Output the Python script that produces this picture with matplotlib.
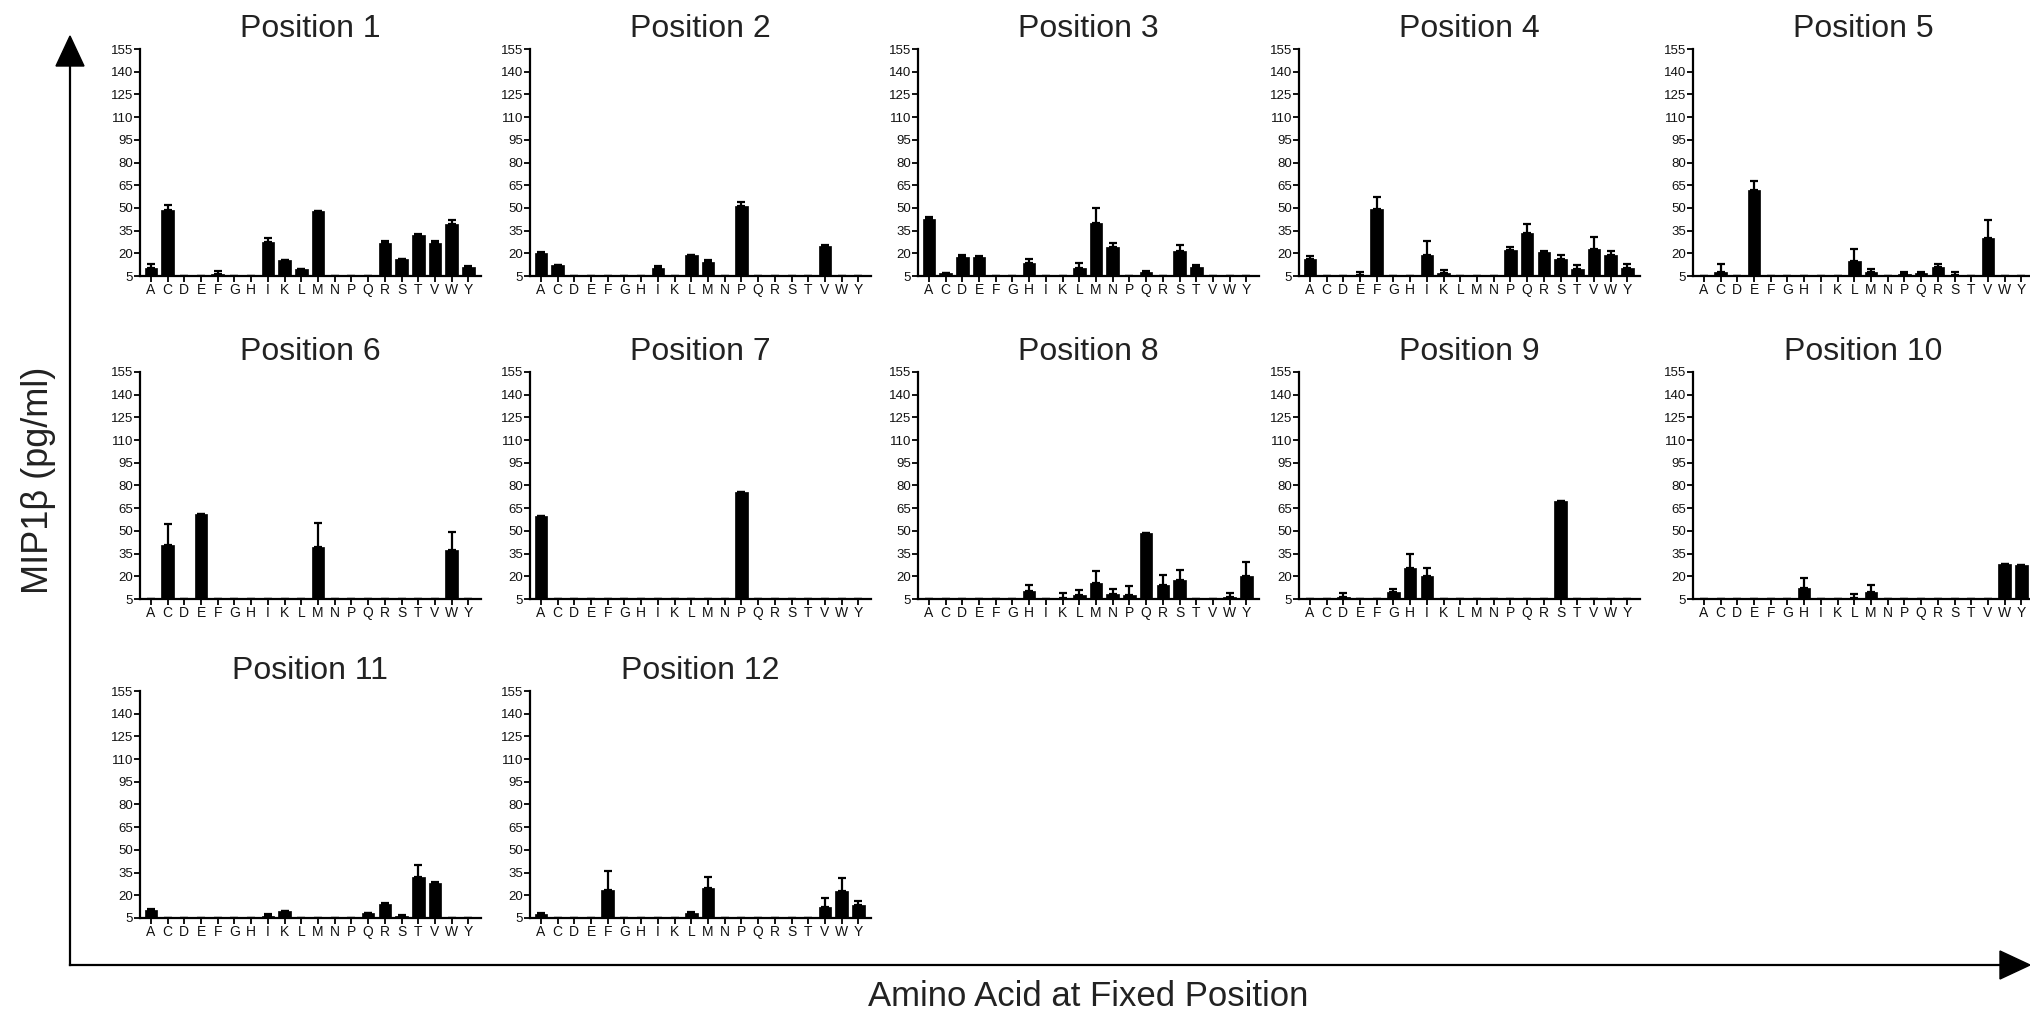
import numpy as np
import matplotlib
matplotlib.use("Agg")
import matplotlib.pyplot as plt
from matplotlib.lines import Line2D
from matplotlib.patches import Polygon

plt.rcParams['font.family'] = ['Liberation Sans', 'DejaVu Sans']

amino_acids = ["A", "C", "D", "E", "F", "G", "H", "I", "K", "L",
               "M", "N", "P", "Q", "R", "S", "T", "V", "W", "Y"]
y_ticks = [5, 20, 35, 50, 65, 80, 95, 110, 125, 140, 155]

pos1 = [10, 48.5, 5, 5, 6.5, 5, 5, 27.7, 15.4, 9.9, 47.8, 5, 5, 5, 26.6, 16, 32.1, 26.6, 39.6, 11]
pos1_err = [2.7, 3.3, 0, 0, 1.8, 0, 0, 2.2, 0, 0, 0, 0, 0, 0, 1.6, 0.4, 0.7, 1.4, 2.2, 0.6]

pos2 = [20.4, 12, 5, 5, 5, 5, 5, 10.3, 5, 18.7, 14.5, 5, 51.1, 5, 5, 5, 5, 24.6, 5, 5]
pos2_err = [0.6, 0.5, 0, 0, 0, 0, 0, 1.3, 0, 0.4, 0.9, 0, 2.7, 0, 0, 0, 0, 0.9, 0, 0]

pos3 = [42.5, 7.2, 17.8, 17.6, 5, 5, 13.8, 5, 5, 10.3, 40.3, 24.4, 5, 7.6, 5, 21.8, 10.7, 5, 5, 5]
pos3_err = [1.8, 0, 0.9, 0.6, 0, 0, 2.7, 0, 0, 3.1, 9.7, 2.6, 0, 0.9, 0, 3.7, 1.6, 0, 0, 0]

pos4 = [16.5, 5, 5, 5.9, 49.1, 5, 5, 19.1, 7.2, 5, 5, 5, 22.4, 33.2, 20.9, 16, 9.6, 23.1, 18.7, 10]
pos4_err = [2, 0, 0, 1.5, 8.2, 0, 0, 8.8, 1.8, 0, 0, 0, 1.6, 6, 0.9, 2.9, 2.7, 7.7, 2.8, 2.9]

pos5 = [5, 7.4, 5, 61.7, 5, 5, 5, 5, 5, 14.7, 7.4, 5, 6.5, 6.8, 10.7, 5.9, 5, 30.4, 5, 5]
pos5_err = [0, 5.3, 0, 6.4, 0, 0, 0, 0, 0, 8.2, 2.5, 0, 0.9, 1.1, 2.2, 2, 0, 11.4, 0, 0]

pos6 = [5, 40.5, 5, 61.1, 5, 5, 5, 5, 5, 5, 39.4, 5, 5, 5, 5, 5, 5, 5, 37.2, 5]
pos6_err = [0, 14.2, 0, 0, 0, 0, 0, 0, 0, 0, 15.5, 0, 0, 0, 0, 0, 0, 0, 12.2, 0]

pos7 = [60, 5, 5, 5, 5, 5, 5, 5, 5, 5, 5, 5, 75.9, 5, 5, 5, 5, 5, 5, 5]
pos7_err = [0, 0, 0, 0, 0, 0, 0, 0, 0, 0, 0, 0, 0, 0, 0, 0, 0, 0, 0, 0]

pos8 = [5, 5, 5, 5, 5, 5, 10.3, 5, 5.9, 7.6, 15.8, 8.1, 7.9, 48.7, 14.3, 17.8, 5, 5, 6.5, 20.4]
pos8_err = [0, 0, 0, 0, 0, 0, 4.2, 0, 2.9, 3.1, 8, 3.7, 5.9, 0, 6.4, 6.4, 0, 0, 2.3, 8.9]

pos9 = [5, 5, 6.1, 5, 5, 9.9, 25.6, 20.3, 5, 5, 5, 5, 5, 5, 5, 69.9, 5, 5, 5, 5]
pos9_err = [0, 0, 2.7, 0, 0, 2, 9.3, 5.5, 0, 0, 0, 0, 0, 0, 0, 0, 0, 0, 0, 0]

pos10 = [5, 5, 5, 5, 5, 5, 12.3, 5, 5, 5.7, 9.4, 5, 5, 5, 5, 5, 5, 5, 27.8, 27.3]
pos10_err = [0, 0, 0, 0, 0, 0, 6.4, 0, 0, 2.4, 4.9, 0, 0, 0, 0, 0, 0, 0, 0, 0]

pos11 = [10.5, 5, 5, 5, 5, 5, 5, 6.3, 9.4, 5, 5, 5, 5, 8.3, 14.3, 6.6, 31.8, 28.3, 5, 5]
pos11_err = [0.7, 0, 0, 0, 0, 0, 0, 1.1, 0.3, 0, 0, 0, 0, 0.3, 0.3, 0.3, 8.2, 0.3, 0, 0]

pos12 = [7.7, 5, 5, 5, 23.2, 5, 5, 5, 5, 8.6, 24.6, 5, 5, 5, 5, 5, 5, 12.3, 22.6, 13.4]
pos12_err = [0.3, 0, 0, 0, 13.1, 0, 0, 0, 0, 0.3, 7.5, 0, 0, 0, 0, 0, 0, 5.8, 9.1, 2.7]

means = [pos1, pos2, pos3, pos4, pos5, pos6, pos7, pos8, pos9, pos10, pos11, pos12]
errors = [pos1_err, pos2_err, pos3_err, pos4_err, pos5_err, pos6_err,
          pos7_err, pos8_err, pos9_err, pos10_err, pos11_err, pos12_err]

W, H = 2031, 1015
fig = plt.figure(figsize=(W / 100, H / 100), dpi=100)

col_left = [140, 530, 918, 1299, 1693]
row_top = [49, 372, 691]
ax_w, ax_h = 341, 227

x = np.arange(len(amino_acids))
for i, (m, e) in enumerate(zip(means, errors)):
    r, c = divmod(i, 5)
    left = col_left[c] / W
    bottom = 1 - (row_top[r] + ax_h) / H
    ax = fig.add_axes([left, bottom, ax_w / W, ax_h / H])
    m = np.array(m, dtype=float)
    e = np.array(e, dtype=float)
    ax.bar(x, m, width=0.75, color='black', edgecolor='black', linewidth=0.5)
    ax.errorbar(x, m, yerr=[np.zeros_like(e), e], fmt='none', ecolor='black',
                elinewidth=1.6, capsize=3, capthick=1.6)
    ax.set_ylim(5, 155)
    ax.set_xlim(-0.65, 19.75)
    ax.set_yticks(y_ticks)
    ax.set_yticklabels([str(t) for t in y_ticks], fontsize=9.5, color='#111111')
    ax.set_xticks(x)
    ax.set_xticklabels(amino_acids, fontsize=10, color='#111111')
    ax.tick_params(axis='y', direction='out', length=4, width=1.3, pad=1)
    ax.tick_params(axis='x', direction='out', length=4, width=1.3, pad=1)
    for s in ['top', 'right']:
        ax.spines[s].set_visible(False)
    for s in ['left', 'bottom']:
        ax.spines[s].set_linewidth(1.6)
    ax.set_title(f"Position {i + 1}", fontsize=23, color='#222222', pad=8.5)

# axis labels
fig.text(39 / W, 1 - 480 / H, "MIP1β (pg/ml)", rotation=90, ha='center', va='center',
         fontsize=26, color='#222222')
fig.text(1088 / W, 1 - 997 / H, "Amino Acid at Fixed Position", ha='center', va='center',
         fontsize=25, color='#222222')

# arrows
tr = fig.transFigure
x0, y0 = 70 / W, 1 - 965 / H
fig.add_artist(Line2D([x0, x0], [y0, 1 - 60 / H], transform=tr, color='black', lw=1.6))
fig.add_artist(Line2D([x0, 2005 / W], [y0, y0], transform=tr, color='black', lw=1.6))
fig.add_artist(Polygon([[x0, 1 - 36 / H], [(70 - 14) / W, 1 - 66 / H], [(70 + 14) / W, 1 - 66 / H]],
                       closed=True, transform=tr, color='black'))
fig.add_artist(Polygon([[2030 / W, y0], [2000 / W, 1 - (965 - 14) / H], [2000 / W, 1 - (965 + 14) / H]],
                       closed=True, transform=tr, color='black'))

fig.savefig("out.png", dpi=100)
